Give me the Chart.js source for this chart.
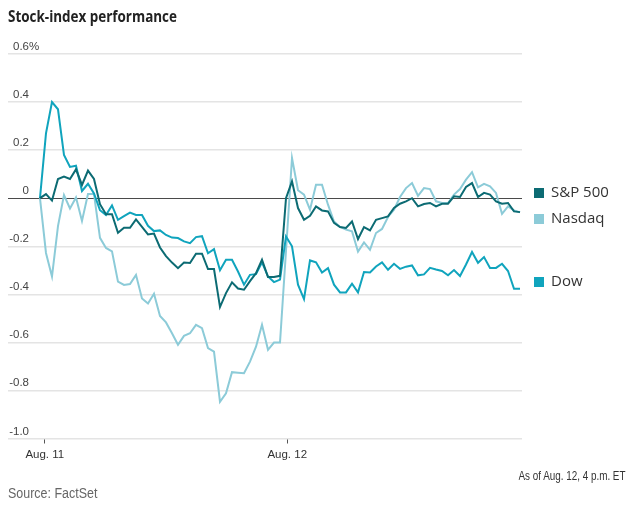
<!DOCTYPE html>
<html>
<head>
<meta charset="utf-8">
<script src="https://cdn.jsdelivr.net/npm/chart.js@4/dist/chart.umd.min.js"></script>
<style>
    body { margin: 0; background: #fff; }
    #wrap { position: relative; width: 631px; height: 508px; }
    #chart { position: absolute; left: 0; top: 0; }
    .txt { position: absolute; white-space: nowrap; }
    #title { left: 8px; top: 5px; font: bold 16px 'Open Sans', sans-serif; color: #222;
             transform: scaleX(0.84); transform-origin: left top; }
    #asof { right: 6px; top: 469px; font: 12.5px 'Liberation Sans', sans-serif; color: #333;
            transform: scaleX(0.79); transform-origin: right top; }
    #source { left: 8px; top: 485px; font: 14px 'Liberation Sans', sans-serif; color: #666;
              transform: scaleX(0.89); transform-origin: left top; }
</style>
</head>
<body>
<div id="wrap">
    <canvas id="chart" width="631" height="508"></canvas>
    <div class="txt" id="title">Stock-index performance</div>
    <div class="txt" id="asof">As of Aug. 12, 4 p.m. ET</div>
    <div class="txt" id="source">Source: FactSet</div>
</div>
<script>
// 10-minute readings, Aug. 11 open through Aug. 12 close (percent change)
var sp500 = [
    0, 0.017, -0.01, 0.08, 0.09, 0.08, 0.12, 0.055, 0.115, 0.08,
    -0.025, -0.067, -0.067, -0.144, -0.123, -0.123, -0.088, -0.119, -0.151, -0.147,
    -0.205, -0.241, -0.268, -0.291, -0.268, -0.27, -0.231, -0.231, -0.295, -0.295,
    -0.453, -0.395, -0.35, -0.376, -0.381, -0.345, -0.312, -0.256, -0.328, -0.328,
    -0.323,
    0, 0.07, -0.041, -0.09, -0.073, -0.034, -0.051, -0.055, -0.103,
    -0.12, -0.124, -0.097, -0.17, -0.12, -0.134, -0.09, -0.083, -0.076, -0.041,
    -0.023, -0.013, 0, -0.034, -0.024, -0.02, -0.034, -0.023, -0.023, 0.008,
    0.005, 0.047, 0.063, 0.005, 0.022, 0.015, -0.013, -0.023, -0.02, -0.055,
    -0.058
];
var nasdaq = [
    0, -0.228, -0.326, -0.116, 0.013, -0.043, 0.003, -0.095, 0.017, 0.017,
    -0.165, -0.207, -0.221, -0.347, -0.361, -0.357, -0.319, -0.417, -0.438, -0.398,
    -0.49, -0.517, -0.562, -0.61, -0.573, -0.562, -0.527, -0.541, -0.624, -0.638,
    -0.847, -0.812, -0.724, -0.726, -0.728, -0.68, -0.618, -0.527, -0.631, -0.601,
    -0.601,
    -0.22, 0.167, 0.033, 0.015, -0.048, 0.056, 0.056, -0.027, -0.097,
    -0.12, -0.131, -0.138, -0.222, -0.184, -0.215, -0.145, -0.128, -0.078, -0.048,
    0.005, 0.042, 0.063, 0.01, 0.042, 0.038, -0.013, -0.02, -0.02, 0.015,
    0.038, 0.077, 0.108, 0.045, 0.06, 0.049, 0.022, -0.065, -0.034, -0.051,
    -0.059
];
var dow = [
    0, 0.27, 0.40, 0.37, 0.18, 0.13, 0.135, 0.03, 0.06, 0.02,
    -0.05, -0.07, -0.03, -0.09, -0.075, -0.06, -0.07, -0.07, -0.115, -0.137,
    -0.134, -0.153, -0.164, -0.166, -0.18, -0.187, -0.162, -0.158, -0.229, -0.212,
    -0.3, -0.256, -0.256, -0.305, -0.36, -0.319, -0.316, -0.267, -0.326, -0.349,
    -0.339,
    -0.159, -0.2, -0.36, -0.42, -0.259, -0.267, -0.309, -0.291, -0.36,
    -0.392, -0.392, -0.356, -0.392, -0.307, -0.309, -0.284, -0.267, -0.298, -0.273,
    -0.294, -0.285, -0.28, -0.321, -0.317, -0.29, -0.297, -0.303, -0.321, -0.299,
    -0.324, -0.276, -0.224, -0.269, -0.245, -0.29, -0.29, -0.273, -0.303, -0.377,
    -0.377
];

var seriesNames = ['S&P 500', 'Nasdaq', 'Dow'];
var seriesColors = ['#0c6b73', '#8ccbd8', '#10a4bd'];
var dayLabels = ['Aug. 11', 'Aug. 12'];
var dayTickAt = [0.8, 41.2];   // reading index where each date tick sits
var yTicks = [0.6, 0.4, 0.2, 0, -0.2, -0.4, -0.6, -0.8, -1.0];

var labelFont = "'Liberation Sans', sans-serif";

function toPoints(values)
{
    return values.map(function(v, i) { return { x: i, y: v }; });
}

function fmtTick(v)
{
    if (v == 0) return '0';
    return v.toFixed(1);
}

// y labels sit above their grid line, right aligned, % only on the top one
var yLabelPlugin = {
    id: 'yLabels',
    afterDraw: function(chart) {
        var ctx = chart.ctx;
        var scale = chart.scales.y;
        ctx.save();
        ctx.font = '11.5px ' + labelFont;
        ctx.fillStyle = '#444';
        ctx.textBaseline = 'alphabetic';
        yTicks.forEach(function(v, i) {
            var y = scale.getPixelForValue(v) - 4;
            ctx.textAlign = 'right';
            ctx.fillText(fmtTick(v), 29, y);
            if (i == 0) {
                ctx.textAlign = 'left';
                ctx.fillText('%', 29, y);
            }
        });
        ctx.restore();
    }
};

// labels to the right of the plot
var sideLegendPlugin = {
    id: 'sideLegend',
    afterDraw: function(chart) {
        var ctx = chart.ctx;
        var rows = [188, 214, 277];
        ctx.save();
        ctx.font = "15px 'Open Sans', sans-serif";
        ctx.textBaseline = 'middle';
        ctx.textAlign = 'left';
        for (var i = 0; i < seriesNames.length; i++) {
            ctx.fillStyle = seriesColors[i];
            ctx.fillRect(534, rows[i], 10, 10);
            ctx.fillStyle = '#333';
            ctx.fillText(seriesNames[i], 551, rows[i] + 5);
        }
        ctx.restore();
    }
};

var ctx = document.getElementById('chart').getContext('2d');
var myChart = new Chart(ctx, {
    type: 'line',
    data: {
        datasets: [
            { label: seriesNames[0], data: toPoints(sp500), borderColor: seriesColors[0] },
            { label: seriesNames[2], data: toPoints(dow), borderColor: seriesColors[2] },
            { label: seriesNames[1], data: toPoints(nasdaq), borderColor: seriesColors[1] }
        ]
    },
    options: {
        responsive: false,
        animation: false,
        layout: { padding: { left: 8, right: 109, top: 54, bottom: 39.5 } },
        elements: {
            line: { borderWidth: 2, tension: 0 },
            point: { radius: 0 }
        },
        plugins: {
            legend: { display: false },
            tooltip: { enabled: false }
        },
        scales: {
            x: {
                type: 'linear',
                min: -5.33,
                max: 80.33,
                afterBuildTicks: function(scale) {
                    scale.ticks = dayTickAt.map(function(v) { return { value: v }; });
                },
                afterFit: function(scale) { scale.height = 30; },
                ticks: {
                    callback: function(value) {
                        return dayLabels[dayTickAt.indexOf(value)];
                    },
                    autoSkip: false,
                    maxRotation: 0,
                    padding: 4,
                    color: '#333',
                    font: { family: labelFont, size: 11.5 }
                },
                grid: {
                    drawOnChartArea: false,
                    drawTicks: true,
                    tickLength: 5,
                    tickColor: '#555',
                    tickWidth: 1
                },
                border: { display: false }
            },
            y: {
                min: -1.0,
                max: 0.6,
                afterBuildTicks: function(scale) {
                    scale.ticks = yTicks.map(function(v) { return { value: v }; });
                },
                afterFit: function(scale) { scale.width = 0; },
                ticks: { display: false },
                grid: {
                    drawTicks: false,
                    color: function(c) { return c.tick && c.tick.value == 0 ? '#4a4a4a' : '#e4e4e4'; },
                    lineWidth: function(c) { return c.tick && c.tick.value == 0 ? 1 : 1.5; }
                },
                border: { display: false }
            }
        }
    },
    plugins: [yLabelPlugin, sideLegendPlugin]
});
</script>
</body>
</html>
